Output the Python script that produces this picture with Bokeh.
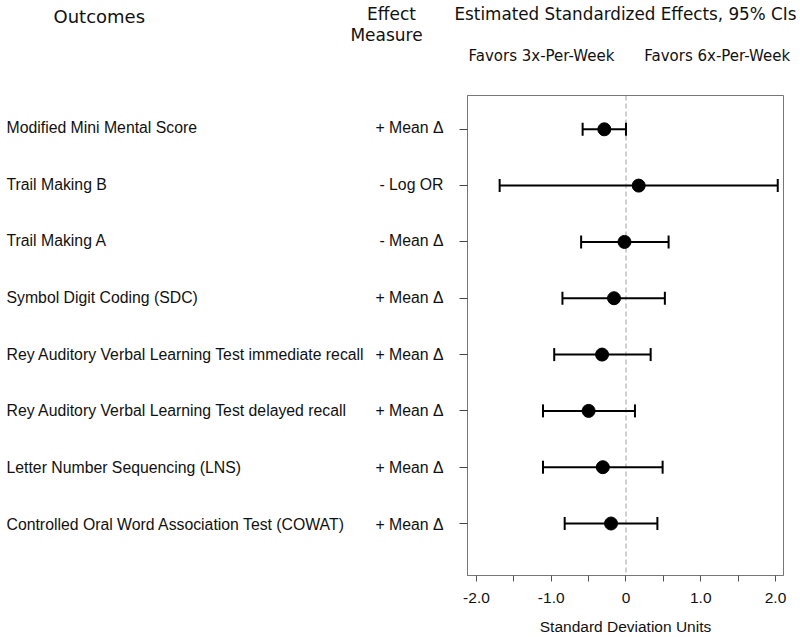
from bokeh.plotting import figure
from bokeh.layouts import row
from bokeh.models import (ColumnDataSource, Whisker, TeeHead, Span, FixedTicker,
                          Range1d, LinearAxis)
from bokeh.core.properties import value
from bokeh.embed import file_html
from bokeh.resources import INLINE

# ---------------- data ----------------
outcomes = [
    "Modified Mini Mental Score",
    "Trail Making B",
    "Trail Making A",
    "Symbol Digit Coding (SDC)",
    "Rey Auditory Verbal Learning Test immediate recall",
    "Rey Auditory Verbal Learning Test delayed recall",
    "Letter Number Sequencing (LNS)",
    "Controlled Oral Word Association Test (COWAT)",
]
measures = ["+ Mean \u0394", "- Log OR", "- Mean \u0394", "+ Mean \u0394",
            "+ Mean \u0394", "+ Mean \u0394", "+ Mean \u0394", "+ Mean \u0394"]
estimates = [-0.29, 0.17, -0.02, -0.16, -0.32, -0.50, -0.31, -0.20]
lower = [-0.58, -1.69, -0.60, -0.85, -0.96, -1.11, -1.11, -0.82]
upper = [0.00, 2.03, 0.57, 0.52, 0.33, 0.12, 0.49, 0.42]

x_ticks = [-2.0, -1.0, 0.0, 1.0, 2.0]
x_tick_labels = ["-2.0", "-1.0", "0", "1.0", "2.0"]
x_minor_ticks = [-1.5, -0.5, 0.5, 1.5]
x_axis_title = "Standard Deviation Units"

header_outcomes = "Outcomes"
header_measure = ["Effect", "Measure"]
header_effects = "Estimated Standardized Effects, 95% CIs"
favors_labels = ["Favors 3x-Per-Week", "Favors 6x-Per-Week"]

# ---------------- layout constants ----------------
n = len(outcomes)
rows = [n - i for i in range(n)]
src = ColumnDataSource(dict(y=rows, est=estimates, lo=lower, hi=upper,
                            outcome=outcomes, measure=measures))

W, H = 800, 637
WL = 450                      # width of the text column figure
FL, FR, FT, FB = 467, 783, 93, 576   # frame edges in page px
XMIN, XMAX = -2.12, 2.107
YMIN, YMAX = 0.077, 8.6
favors_pos = [-1.13, 1.22]    # centres of the "Favors" captions (data x)

LAB_FONT = "Liberation Sans"
HEAD_FONT = "DejaVu Sans"
TXT = "#111111"

# ---------------- forest plot ----------------
p = figure(width=W - WL, height=H, output_backend="svg", toolbar_location=None,
           x_range=Range1d(XMIN, XMAX), y_range=Range1d(YMIN, YMAX),
           min_border_left=FL - WL, min_border_right=W - FR,
           min_border_top=FT, min_border_bottom=H - FB)
p.xgrid.visible = False
p.ygrid.visible = False
p.outline_line_color = "#777777"
p.outline_line_width = 1
p.border_fill_color = "white"

xa = p.xaxis[0]
xa.ticker = FixedTicker(ticks=x_ticks, minor_ticks=x_minor_ticks)
xa.major_label_overrides = {t: l for t, l in zip(x_ticks, x_tick_labels)}
xa.major_tick_in = 0
xa.major_tick_out = 6
xa.minor_tick_in = 0
xa.minor_tick_out = 6
xa.major_tick_line_color = "#555555"
xa.minor_tick_line_color = "#555555"
xa.axis_line_color = "#777777"
xa.major_label_standoff = 11
xa.major_label_text_font = LAB_FONT
xa.major_label_text_font_size = "15.5px"
xa.major_label_text_color = TXT
xa.axis_label = x_axis_title
xa.axis_label_standoff = 12
xa.axis_label_text_font = LAB_FONT
xa.axis_label_text_font_size = "15.5px"
xa.axis_label_text_font_style = "normal"
xa.axis_label_text_color = TXT

# row ticks on the left edge, drawn as unlabeled (minor) ticks
ya = p.yaxis[0]
ya.ticker = FixedTicker(ticks=[], minor_ticks=rows)
ya.major_label_text_font_size = "0px"
ya.major_label_standoff = 0
ya.major_tick_line_color = None
ya.minor_tick_in = 0
ya.minor_tick_out = 8
ya.minor_tick_line_color = "#444444"
ya.axis_line_color = "#777777"

# header captions as an axis above the frame
top = LinearAxis(ticker=FixedTicker(ticks=favors_pos),
                 major_label_overrides={t: l for t, l in zip(favors_pos, favors_labels)},
                 axis_line_color=None, major_tick_line_color=None,
                 minor_tick_line_color=None, major_tick_out=0, major_tick_in=0,
                 major_label_standoff=31,
                 major_label_text_font=HEAD_FONT, major_label_text_font_size="15px",
                 major_label_text_color=TXT,
                 axis_label=header_effects, axis_label_standoff=20,
                 axis_label_text_font=HEAD_FONT, axis_label_text_font_size="16.8px",
                 axis_label_text_font_style="normal", axis_label_text_color=TXT)
p.add_layout(top, "above")

zero = Span(location=0, dimension="height", line_color="#a0a0a0",
            line_dash="5 3", line_width=1, level="underlay")
p.add_layout(zero)

wh = Whisker(base="y", lower="lo", upper="hi", dimension="width", source=src,
             line_color="black", line_width=2,
             upper_head=TeeHead(size=13, line_width=2, line_color="black"),
             lower_head=TeeHead(size=13, line_width=2, line_color="black"))
p.add_layout(wh)

p.scatter("est", "y", source=src, size=13, color="black")

# ---------------- text column ----------------
ppu_y = (FB - FT) / (YMAX - YMIN)
YL_MIN = YMIN - (H - FB) / ppu_y
YL_MAX = YMAX + FT / ppu_y

def dy(py):  # page y (px from top) -> data y of the text column
    return YL_MAX - py / ppu_y

t = figure(width=WL, height=H, output_backend="svg", toolbar_location=None,
           x_range=Range1d(0, WL), y_range=Range1d(YL_MIN, YL_MAX),
           x_axis_location=None, y_axis_location=None,
           min_border_left=0, min_border_right=0, min_border_top=0, min_border_bottom=0)
t.xgrid.visible = False
t.ygrid.visible = False
t.outline_line_color = None
t.border_fill_color = "white"

try:
    t.frame_align = False
    p.frame_align = False
except AttributeError:
    pass

t.text(x=6, y="y", text="outcome", source=src, text_align="left", text_baseline="middle",
       text_font=value(LAB_FONT), text_font_size="15.8px", text_color=TXT)
t.text(x=443, y="y", text="measure", source=src, text_align="right", text_baseline="middle",
       text_font=value(LAB_FONT), text_font_size="15.8px", text_color=TXT)

hdr = ColumnDataSource(dict(
    x=[53, 391, 386],
    y=[dy(15.5), dy(13.5), dy(34.5)],
    text=[header_outcomes, header_measure[0], header_measure[1]],
    size=["18px", "17px", "17px"],
    align=["left", "center", "center"],
))
t.text(x="x", y="y", text="text", source=hdr, text_align="align", text_baseline="middle",
       text_font=value(HEAD_FONT), text_font_size="size", text_color=TXT)

layout = row(t, p, spacing=0)
open("out.html", "w").write(file_html(layout, INLINE))
